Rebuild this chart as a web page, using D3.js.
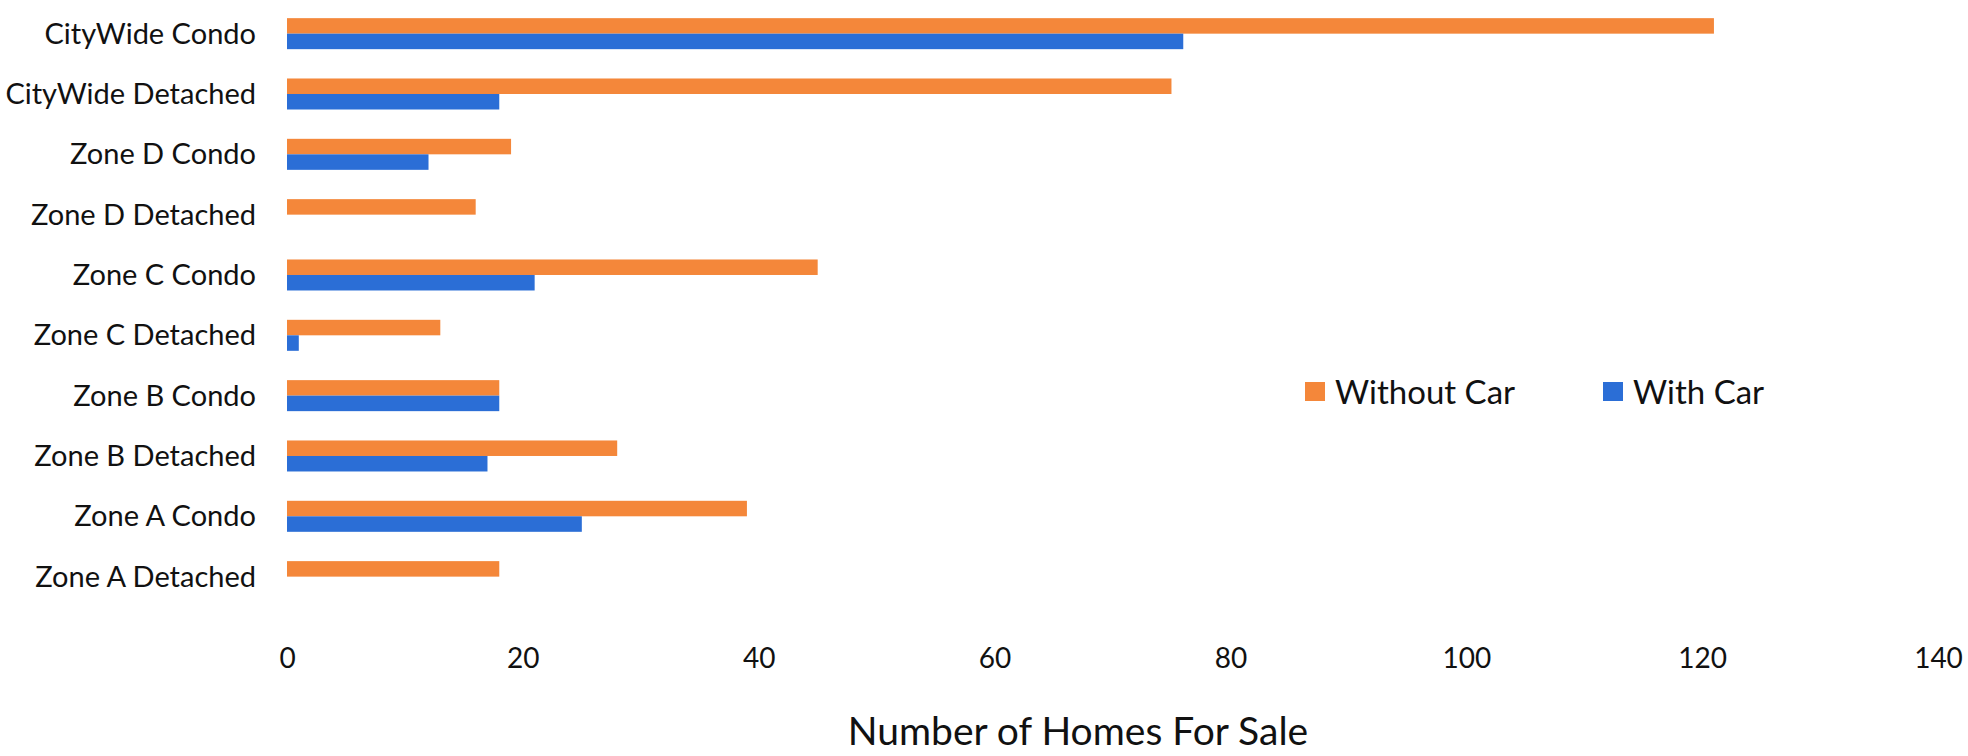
<!DOCTYPE html>
<html>
<head>
<meta charset="utf-8">
<script src="https://cdn.jsdelivr.net/npm/d3@7"></script>
<style>
    body { margin: 0; background: #fff; }
    svg text { font-family: Lato, "Open Sans", sans-serif; fill: #111; }
</style>
</head>
<body>
<svg id="chart"></svg>
<script>
/*global d3*/

// categories top to bottom, as they appear in the chart
var categories = ["CityWide Condo", "CityWide Detached", "Zone D Condo", "Zone D Detached",
    "Zone C Condo", "Zone C Detached", "Zone B Condo", "Zone B Detached",
    "Zone A Condo", "Zone A Detached"];
var seriesNames = ["Without Car", "With Car"];
var withoutCar = [121, 75, 19, 16, 45, 13, 18, 28, 39, 18];
var withCar = [76, 18, 12, 0, 21, 1, 18, 17, 25, 0];
var xTicks = [0, 20, 40, 60, 80, 100, 120, 140];
var colors = ["#f4873a", "#2b6ed6"];
var axisTitle = "Number of Homes For Sale";

var W = 1968, H = 756;
var svg = d3.select("#chart").attr("width", W).attr("height", H);

var x = d3.scaleLinear().domain([0, 140]).range([287, 1938]);
var y = d3.scaleBand().domain(categories).range([3.5, 606.8])
    .paddingInner(0.486).paddingOuter(0.243);
var ySub = d3.scaleBand().domain(seriesNames).range([0, y.bandwidth()]);

var rows = categories.map(function (c, i) {
    return [c, [withoutCar[i], withCar[i]]];
});

var groups = svg.append("g").selectAll("g.row")
    .data(rows)
    .enter().append("g")
    .attr("class", "row")
    .attr("transform", function (d) { return "translate(0," + y(d[0]) + ")"; });

groups.selectAll("rect")
    .data(function (d) {
        return d[1].map(function (v, j) { return {name: seriesNames[j], value: v, idx: j}; });
    })
    .enter().append("rect")
    .attr("x", x(0))
    .attr("y", function (d) { return ySub(d.name); })
    .attr("width", function (d) { return x(d.value) - x(0); })
    .attr("height", ySub.bandwidth())
    .style("fill", function (d) { return colors[d.idx]; });

// category labels
svg.append("g").selectAll("text")
    .data(categories)
    .enter().append("text")
    .attr("x", 256)
    .attr("y", function (d) { return y(d) + y.bandwidth() / 2; })
    .attr("dy", "0.35em")
    .attr("text-anchor", "end")
    .style("font-size", "29px")
    .text(function (d) { return d; });

// x axis, labels only
var xAxis = svg.append("g")
    .attr("transform", "translate(0,648)")
    .call(d3.axisBottom(x).tickValues(xTicks).tickSize(0).tickPadding(0));
xAxis.select(".domain").remove();
xAxis.selectAll("text")
    .attr("dy", "0.71em")
    .style("font-size", "28px")
    .style("font-family", "Lato, sans-serif")
    .attr("fill", "#111");

svg.append("text")
    .attr("x", 1078)
    .attr("y", 745)
    .attr("text-anchor", "middle")
    .style("font-size", "39px")
    .text(axisTitle);

// legend
var legendX = [1305, 1603];
var legend = svg.append("g").selectAll("g")
    .data(seriesNames)
    .enter().append("g")
    .attr("transform", function (d, i) { return "translate(" + legendX[i] + ",382)"; });
legend.append("rect")
    .attr("width", 20).attr("height", 19)
    .style("fill", function (d, i) { return colors[i]; });
legend.append("text")
    .attr("x", 30)
    .attr("y", 10)
    .attr("dy", "0.35em")
    .style("font-size", "33px")
    .text(function (d) { return d; });
</script>
</body>
</html>
